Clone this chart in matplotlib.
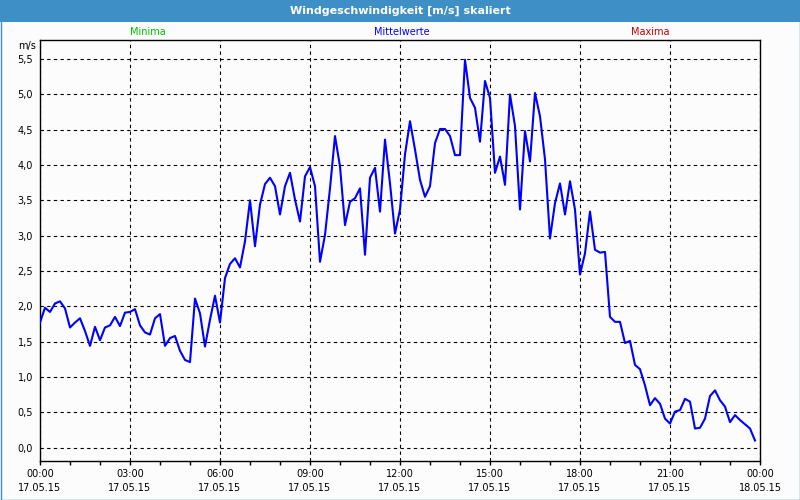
import pandas as pd
import matplotlib
matplotlib.use('Agg')
import matplotlib.pyplot as plt
import matplotlib.dates as mdates
from matplotlib.patches import Rectangle
from matplotlib.ticker import FuncFormatter, MultipleLocator

# Windgeschwindigkeit, Mittelwerte alle 10 Minuten (17.05.15 00:00 - 23:50)
start = '2015-05-17 00:00'
n_points = 144
wind = [
    1.77, 1.98, 1.92, 2.04, 2.07, 1.97, 1.70, 1.77, 1.83, 1.65,
    1.44, 1.71, 1.52, 1.70, 1.73, 1.85, 1.72, 1.91, 1.92, 1.96,
    1.73, 1.63, 1.60, 1.83, 1.89, 1.44, 1.55, 1.58, 1.37, 1.24,
    1.21, 2.11, 1.90, 1.43, 1.81, 2.15, 1.77, 2.40, 2.60, 2.68,
    2.55, 2.92, 3.50, 2.85, 3.44, 3.73, 3.82, 3.70, 3.30, 3.70,
    3.89, 3.51, 3.20, 3.84, 3.97, 3.70, 2.63, 3.01, 3.67, 4.41,
    3.98, 3.15, 3.48, 3.53, 3.67, 2.73, 3.82, 3.96, 3.34, 4.36,
    3.74, 3.03, 3.37, 4.15, 4.62, 4.22, 3.79, 3.55, 3.70, 4.31,
    4.51, 4.51, 4.41, 4.14, 4.14, 5.49, 4.95, 4.81, 4.33, 5.19,
    4.95, 3.89, 4.12, 3.72, 5.00, 4.55, 3.37, 4.48, 4.05, 5.02,
    4.69, 4.08, 2.96, 3.46, 3.74, 3.30, 3.77, 3.37, 2.45, 2.75,
    3.34, 2.80, 2.76, 2.77, 1.85, 1.78, 1.78, 1.48, 1.51, 1.17,
    1.11, 0.88, 0.60, 0.70, 0.62, 0.41, 0.34, 0.51, 0.53, 0.69,
    0.65, 0.27, 0.28, 0.41, 0.73, 0.81, 0.67, 0.58, 0.36, 0.46,
    0.39, 0.33, 0.27, 0.10,
]
times = pd.date_range(start, periods=n_points, freq='10min')

title = 'Windgeschwindigkeit [m/s] skaliert'
legend_items = [('Minima', '#00c000'), ('Mittelwerte', '#0000ff'), ('Maxima', '#c00000')]

bar_blue = '#3d8fc6'

fig = plt.figure(figsize=(8, 5), dpi=100, facecolor='#fcfcfc')

# Titelleiste und Rahmen
fig.patches.append(Rectangle((0, 1 - 22 / 500), 1, 22 / 500, transform=fig.transFigure,
                             facecolor=bar_blue, edgecolor='none', zorder=0))
fig.patches.append(Rectangle((0.5 / 800, 0.5 / 500), 1 - 1 / 800, 1 - 1 / 500, transform=fig.transFigure,
                             facecolor='none', edgecolor=bar_blue, linewidth=1, zorder=1))
fig.text(0.5, 1 - 11 / 500, title, color='white', fontsize=8, fontweight='bold',
         ha='center', va='center')

for (label, color), xpos in zip(legend_items, [148, 402, 650]):
    fig.text(xpos / 800, 1 - 32 / 500, label, color=color, fontsize=7, ha='center', va='center')

ax = fig.add_axes([40 / 800, 39 / 500, 720 / 800, 421 / 500])
ax.set_facecolor('#fcfcfc')
ax.plot(times, wind, color='#0000ff', linewidth=1.5, zorder=3)

ax.set_xlim(pd.Timestamp('2015-05-17 00:00'), pd.Timestamp('2015-05-18 00:00'))
ax.set_ylim(-0.19, 5.77)

ax.xaxis.set_major_locator(mdates.HourLocator(byhour=range(0, 24, 3)))
ax.xaxis.set_minor_locator(mdates.HourLocator())
ax.xaxis.set_major_formatter(mdates.DateFormatter('%H:%M\n%d.%m.%y'))
ax.yaxis.set_major_locator(MultipleLocator(0.5))
ax.yaxis.set_major_formatter(FuncFormatter(lambda v, pos: f'{v:.1f}'.replace('.', ',')))

ax.tick_params(axis='x', which='major', length=3, width=1, labelsize=7, pad=3)
ax.tick_params(axis='x', which='minor', length=3, width=1)
ax.tick_params(axis='y', length=0, labelsize=7, pad=5)
for lbl in ax.get_xticklabels():
    lbl.set_linespacing(1.45)

ax.grid(True, which='major', color='black', linestyle=(0, (3, 3)), linewidth=0.8)
for sp in ax.spines.values():
    sp.set_color('black')
    sp.set_linewidth(1)

fig.text(27 / 800, 1 - 46 / 500, 'm/s', fontsize=7, ha='center', va='center')

fig.savefig('out.png', dpi=100, facecolor=fig.get_facecolor())
